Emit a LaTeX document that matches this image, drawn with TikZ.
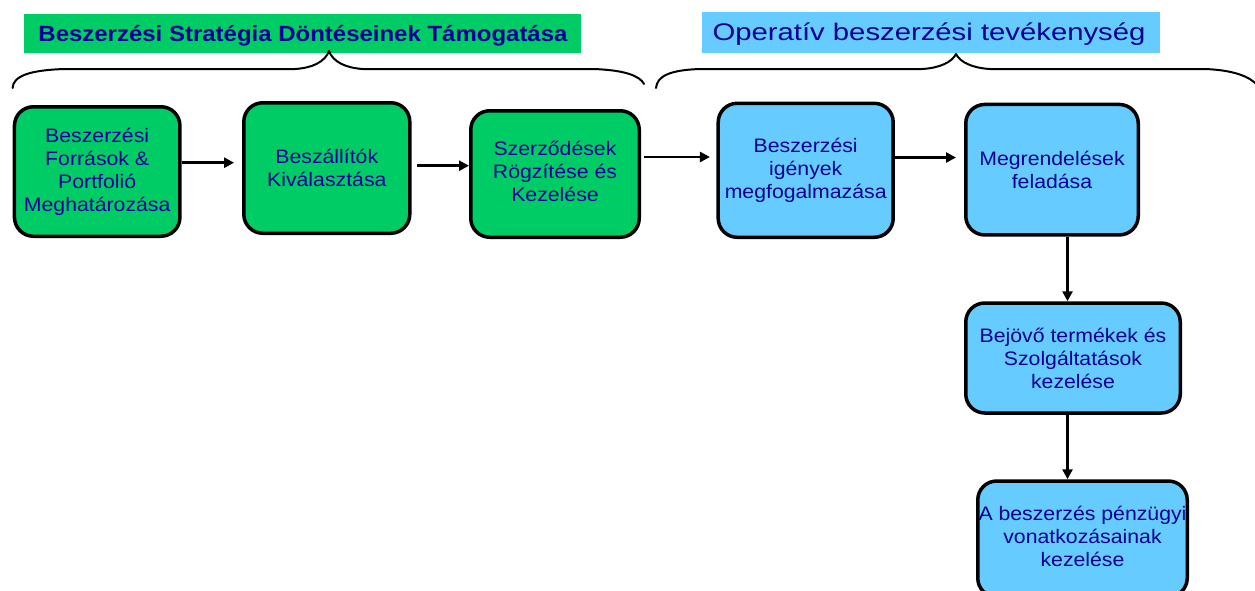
\documentclass[tikz,border=0pt]{standalone}
\usepackage{fontspec}
\setmainfont{Liberation Sans}[FakeStretch=1.09]
\newfontfamily\opfont{Liberation Sans}[FakeStretch=1.22]
\usetikzlibrary{arrows.meta,calc}

\definecolor{grn}{RGB}{0,204,102}
\definecolor{blu}{RGB}{102,204,255}
\definecolor{ink}{RGB}{0,0,150}

\tikzset{
  procbox/.style={draw=black, line width=3.5pt, rounded corners=19pt,
    align=center, text=ink, inner sep=0pt,
    font=\fontsize{19.5}{23}\selectfont},
  titlebox/.style={draw=none, inner sep=0pt},
  titletext/.style={text=ink, inner sep=0pt, anchor=base},
  flow/.style={line width=2.5pt, -{Triangle[length=10pt,width=10pt]}},
  bracket/.style={line width=2pt, line cap=round, line join=round}
}

\begin{document}
\begin{tikzpicture}[x=1pt,y=-1pt]
  \useasboundingbox (0,0) rectangle (1255,590);
  \clip (0,0) rectangle (1255,590);
  \fill[white] (0,0) rectangle (1255,590);

  % section headings
  \node[titlebox, fill=grn, minimum width=556.8pt, minimum height=38.7pt] (t1) at (302.4,33.4) {};
  \node[titletext, font=\fontsize{22}{26}\selectfont\bfseries] (t1l) at (303,41.5)
    {Beszerzési Stratégia Döntéseinek Támogatása};
  \node[titlebox, fill=blu, minimum width=457.6pt, minimum height=41.6pt] (t2) at (930.8,32.5) {};
  \node[titletext, font=\fontsize{24}{28}\opfont] (t2l) at (929,40)
    {Operatív beszerzési tevékenység};

  % curly brackets under the headings
  \draw[bracket] (12.6,88) .. controls (13,76) and (30,70) .. (65,69)
    -- (295,69) .. controls (312,68) and (325,62) .. (329,51)
    .. controls (333,62) and (346,68) .. (363,69)
    -- (593,69) .. controls (625,70) and (640,76) .. (644,84);
  \draw[bracket] (656,88) .. controls (657,76) and (670,70) .. (700,69)
    -- (922,69) .. controls (940,68) and (952,62) .. (956,54)
    .. controls (960,62) and (972,68) .. (990,69)
    -- (1205,69) .. controls (1232,70) and (1250,76) .. (1258,86);

  % strategic steps
  \node[procbox, fill=grn, minimum width=165.5pt, minimum height=129.5pt] (b1) at (97.2,171.5)
    {Beszerzési\\Források \&\\Portfolió\\Meghatározása};
  \node[procbox, fill=grn, minimum width=166pt, minimum height=130.5pt] (b2) at (326.8,168)
    {Beszállítók\\Kiválasztása};
  \node[procbox, fill=grn, minimum width=168.5pt, minimum height=126.5pt] (b3) at (555,174)
    {\raisebox{3pt}{\begin{tabular}{@{}c@{}}Szerződések\\Rögzítése és\\Kezelése\end{tabular}}};

  % operative steps
  \node[procbox, fill=blu, minimum width=175pt, minimum height=134pt] (b4) at (805.7,170.3)
    {Beszerzési\\igények\\megfogalmazása};
  \node[procbox, fill=blu, minimum width=172.5pt, minimum height=130.5pt] (b5) at (1052,169.7)
    {Megrendelések\\feladása};
  \node[procbox, fill=blu, minimum width=214.5pt, minimum height=110pt] (b6) at (1073,358)
    {Bejövő termékek és\\Szolgáltatások\\kezelése};
  \node[procbox, fill=blu, minimum width=209.5pt, minimum height=116pt] (b7) at (1082.5,539)
    {\raisebox{4pt}{\begin{tabular}{@{}c@{}}A beszerzés pénzügyi\\vonatkozásainak\\kezelése\end{tabular}}};

  % flow between the steps
  \draw[flow, shorten >=8pt] ($(b1.east)+(0,-8.8)$) coordinate (a1) -- (a1 -| b2.west);
  \draw[flow, shorten <=5pt] ($(b2.east)+(0,-2.3)$) coordinate (a2) -- (a2 -| b3.west);
  \draw[flow, shorten <=3pt, shorten >=6.5pt] ($(b3.east)+(0,-17)$) coordinate (a3) -- (a3 -| b4.west);
  \draw[flow, shorten >=8pt] ($(b4.east)+(0,-12.8)$) coordinate (a4) -- (a4 -| b5.west);
  \draw[flow] ($(b5.south)+(15.5,0)$) coordinate (a5) -- (a5 |- b6.north);
  \draw[flow] ($(b6.south)+(-5.5,0)$) coordinate (a6) -- (a6 |- b7.north);
\end{tikzpicture}
\end{document}
